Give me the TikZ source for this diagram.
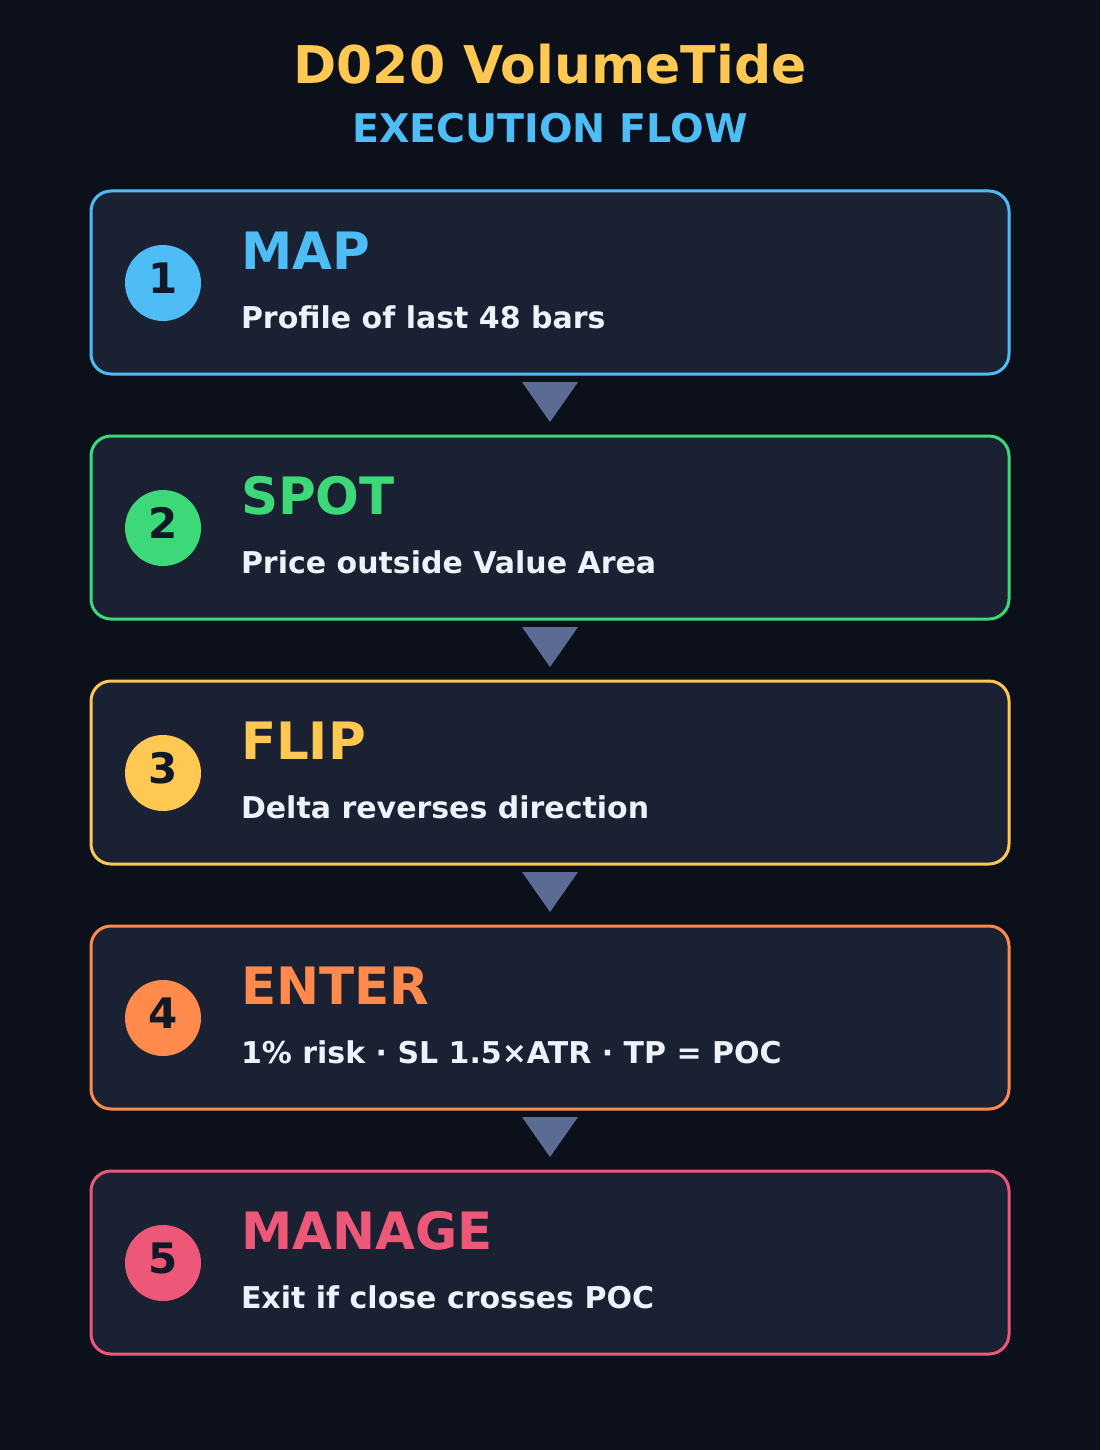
\documentclass[tikz,border=0pt]{standalone}
\usepackage{fontspec}
\setmainfont{DejaVu Sans}
\usetikzlibrary{positioning}
\definecolor{bgdark}{HTML}{0B101B}
\definecolor{cardfill}{HTML}{1A2133}
\definecolor{mapblue}{HTML}{4FBDF5}
\definecolor{spotgreen}{HTML}{3DD978}
\definecolor{flipyellow}{HTML}{FFC852}
\definecolor{entorange}{HTML}{FF8A4C}
\definecolor{manpink}{HTML}{EE5878}
\definecolor{bodytext}{HTML}{EEF2FA}
\definecolor{digitdark}{HTML}{111827}
\definecolor{tricol}{HTML}{5B6B94}
\begin{document}
\begin{tikzpicture}[x=1pt, y=-1pt,
        every node/.append style={font=\bfseries, inner sep=0pt, outer sep=0pt},
        card/.style={draw=#1, fill=cardfill, line width=3pt, rounded corners=20pt,
          minimum width=918pt, minimum height=183pt},
        badge/.style={circle, fill=#1, minimum size=76pt},
        digit/.style={anchor=base, text=digitdark, font=\fontsize{42}{42}\selectfont\bfseries},
        heading/.style={anchor=base west, text=#1, font=\fontsize{51.5}{51.5}\selectfont\bfseries},
        detail/.style={anchor=base west, text=bodytext, font=\fontsize{30}{30}\selectfont\bfseries},
        downtri/.style={fill=tricol}]
      \useasboundingbox[fill=bgdark] (0,0) rectangle (1100,1450);
      % title
      \node (title) [anchor=base, text=flipyellow, font=\fontsize{52}{52}\selectfont\bfseries] at (550,84) {D020 VolumeTide};
      \node (subtitle) [anchor=base, text=mapblue, font=\fontsize{39.5}{39.5}\selectfont\bfseries] at (550,143) {EXECUTION FLOW};
      % step cards
      \node (map) [card=mapblue] at (550,282.5) {};
      \node (spot) [card=spotgreen] at (550,527.5) {};
      \node (flip) [card=flipyellow] at (550,772.5) {};
      \node (enter) [card=entorange] at (550,1017.5) {};
      \node (manage) [card=manpink] at (550,1262.5) {};
      % badges
      \node (one) [badge=mapblue] at (163,283) {};
      \node (two) [badge=spotgreen] at (163,528) {};
      \node (three) [badge=flipyellow] at (163,773) {};
      \node (four) [badge=entorange] at (163,1018) {};
      \node (five) [badge=manpink] at (163,1263) {};
      \node (onedigit) [digit] at ([yshift=-10pt]one.center) {1};
      \node (twodigit) [digit] at ([yshift=-10pt]two.center) {2};
      \node (threedigit) [digit] at ([yshift=-10pt]three.center) {3};
      \node (fourdigit) [digit] at ([yshift=-10pt]four.center) {4};
      \node (fivedigit) [digit] at ([yshift=-10pt]five.center) {5};
      % headings and details
      \node (maptitle) [heading=mapblue] at (241,269) {MAP};
      \node (maptext) [detail] at (241,328) {Profile of last 48 bars};
      \node (spottitle) [heading=spotgreen] at (241,514) {SPOT};
      \node (spottext) [detail] at (241,573) {Price outside Value Area};
      \node (fliptitle) [heading=flipyellow] at (241,759) {FLIP};
      \node (fliptext) [detail] at (241,818) {Delta reverses direction};
      \node (entertitle) [heading=entorange] at (241,1004) {ENTER};
      \node (entertext) [detail] at (241,1063) {1\% risk · SL 1.5×ATR · TP = POC};
      \node (managetitle) [heading=manpink] at (241,1249) {MANAGE};
      \node (managetext) [detail] at (241,1308) {Exit if close crosses POC};
      % arrows between cards
      \fill[downtri] ([xshift=-28pt,yshift=-8pt]map.south) -- ([xshift=28pt,yshift=-8pt]map.south) -- ([yshift=-48pt]map.south) -- cycle;
      \fill[downtri] ([xshift=-28pt,yshift=-8pt]spot.south) -- ([xshift=28pt,yshift=-8pt]spot.south) -- ([yshift=-48pt]spot.south) -- cycle;
      \fill[downtri] ([xshift=-28pt,yshift=-8pt]flip.south) -- ([xshift=28pt,yshift=-8pt]flip.south) -- ([yshift=-48pt]flip.south) -- cycle;
      \fill[downtri] ([xshift=-28pt,yshift=-8pt]enter.south) -- ([xshift=28pt,yshift=-8pt]enter.south) -- ([yshift=-48pt]enter.south) -- cycle;
    \end{tikzpicture}
\end{document}
